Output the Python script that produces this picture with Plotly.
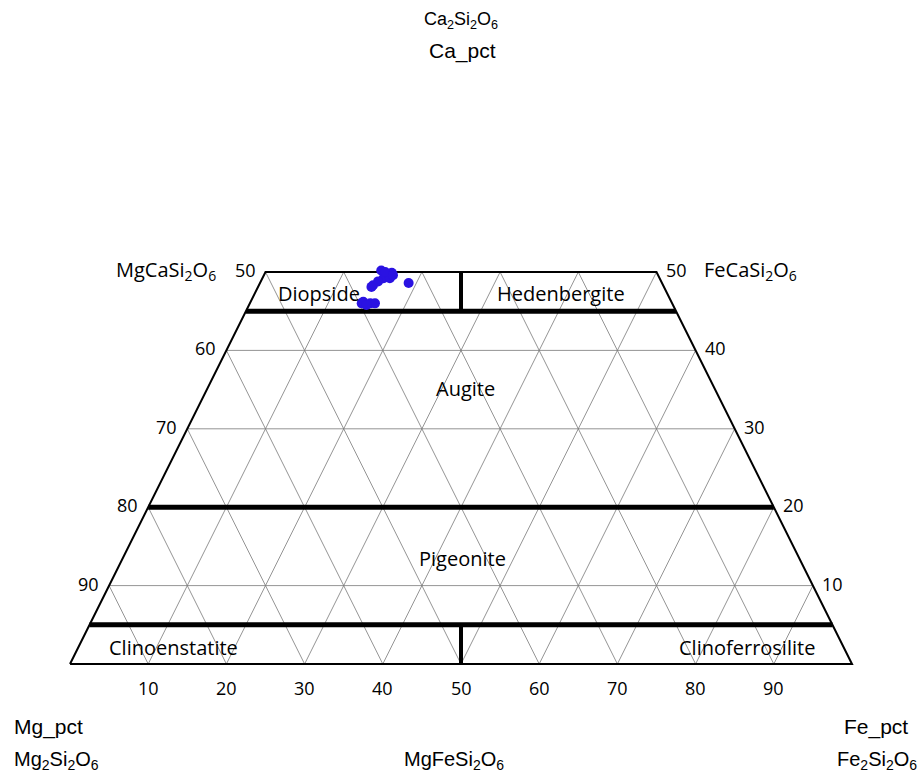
import plotly.graph_objects as go

# ---------------- data ----------------
ca_pct = [50.2, 49.9, 49.6, 49.2, 49.2, 48.8, 48.3, 48.1, 48.6, 46.2, 46.0, 46.0, 46.0, 45.8, 50.0, 49.6]
fe_pct = [14.7, 16.2, 15.7, 15.5, 16.3, 15.0, 14.6, 14.5, 19.0, 14.4, 14.3, 15.4, 16.0, 15.0, 15.3, 16.5]
mg_pct = [round(100 - c - f, 1) for c, f in zip(ca_pct, fe_pct)]

ca_max = 50                       # quadrilateral is truncated at Wo50
field_boundaries_ca = [5, 20, 45]  # thick boundaries
grid_ca = [10, 30, 40]             # thin horizontal grid
grid_steps = [10, 20, 30, 40, 50, 60, 70, 80, 90]
left_ticks = [50, 60, 70, 80, 90]     # Mg at left edge
right_ticks = [50, 40, 30, 20, 10]    # Ca at right edge
bottom_ticks = [10, 20, 30, 40, 50, 60, 70, 80, 90]  # Fe along base

fields = ["Diopside", "Hedenbergite", "Augite", "Pigeonite", "Clinoenstatite", "Clinoferrosilite"]


def X(ca, fe):
    return fe + ca / 2.0


def Y(ca):
    return ca


fig = go.Figure()

grid_style = dict(color="rgb(120,120,120)", width=0.8)

# thin horizontal grid lines
for c in grid_ca:
    fig.add_trace(go.Scatter(x=[X(c, 0), X(c, 100 - c)], y=[Y(c), Y(c)], mode="lines",
                             line=grid_style, hoverinfo="skip", showlegend=False))
# constant-Fe and constant-Mg diagonals
for s in grid_steps:
    ctop = min(ca_max, 100 - s)
    fig.add_trace(go.Scatter(x=[X(0, s), X(ctop, s)], y=[Y(0), Y(ctop)], mode="lines",
                             line=grid_style, hoverinfo="skip", showlegend=False))
    fe0 = 100 - s
    fig.add_trace(go.Scatter(x=[X(0, fe0), X(ctop, 100 - s - ctop)], y=[Y(0), Y(ctop)], mode="lines",
                             line=grid_style, hoverinfo="skip", showlegend=False))

# outline
fig.add_trace(go.Scatter(
    x=[X(0, 0), X(0, 100), X(ca_max, 100 - ca_max), X(ca_max, 0), X(0, 0)],
    y=[Y(0), Y(0), Y(ca_max), Y(ca_max), Y(0)],
    mode="lines", line=dict(color="black", width=2), hoverinfo="skip", showlegend=False))

# thick field boundaries
for c in field_boundaries_ca:
    fig.add_trace(go.Scatter(x=[X(c, 0), X(c, 100 - c)], y=[Y(c), Y(c)], mode="lines",
                             line=dict(color="black", width=5), hoverinfo="skip", showlegend=False))
# Mg = Fe dividers
for c0, c1 in [(0, field_boundaries_ca[0]), (field_boundaries_ca[2], ca_max)]:
    fig.add_trace(go.Scatter(x=[X(c0, (100 - c0) / 2), X(c1, (100 - c1) / 2)], y=[Y(c0), Y(c1)],
                             mode="lines", line=dict(color="black", width=4),
                             hoverinfo="skip", showlegend=False))

# data points
fig.add_trace(go.Scatter(
    x=[X(c, f) for c, f in zip(ca_pct, fe_pct)], y=[Y(c) for c in ca_pct],
    mode="markers", marker=dict(color="#2a12e2", size=10),
    customdata=list(zip(ca_pct, mg_pct, fe_pct)),
    hovertemplate="Ca_pct=%{customdata[0]}<br>Mg_pct=%{customdata[1]}<br>Fe_pct=%{customdata[2]}<extra></extra>",
    showlegend=False))

ann = []
tick_font = dict(family="Open Sans, sans-serif", size=18, color="black")
for v in left_ticks:
    c = 100 - v
    ann.append(dict(x=X(c, 0), y=Y(c), text=str(v), showarrow=False, xanchor="right",
                    yanchor="middle", xshift=-8, yshift=2, font=tick_font))
for v in right_ticks:
    c = v
    ann.append(dict(x=X(c, 100 - c), y=Y(c), text=str(v), showarrow=False, xanchor="left",
                    yanchor="middle", xshift=7, yshift=2, font=tick_font))
for v in bottom_ticks:
    ann.append(dict(x=X(0, v), y=Y(0), text=str(v), showarrow=False, xanchor="center",
                    yanchor="middle", yshift=-24, font=tick_font))

label_font = dict(family="Open Sans, sans-serif", size=20, color="black")
field_pos = [(319, 293), (561, 293), (466, 388), (462, 558), (173, 647), (747, 647)]
W, H = 920, 778
for name, (px, py) in zip(fields, field_pos):
    ann.append(dict(x=px / W, y=1 - py / H, xref="paper", yref="paper", text=name,
                    showarrow=False, xanchor="center", yanchor="middle", font=label_font))

form_font = dict(family="Open Sans, sans-serif", size=20, color="black")
ann.append(dict(x=218 / W, y=1 - 270 / H, xref="paper", yref="paper",
                text="MgCaSi<sub>2</sub>O<sub>6</sub>", showarrow=False,
                xanchor="right", yanchor="middle", font=form_font))
ann.append(dict(x=702 / W, y=1 - 270 / H, xref="paper", yref="paper",
                text="FeCaSi<sub>2</sub>O<sub>6</sub>", showarrow=False,
                xanchor="left", yanchor="middle", font=form_font))

title_font = dict(family="Liberation Sans, Arial, sans-serif", size=21, color="black")
formula_font = dict(family="Liberation Sans, Arial, sans-serif", size=18, color="black")
bottom_formula_font = dict(family="Liberation Sans, Arial, sans-serif", size=20, color="black")
ann.append(dict(x=461 / W, y=1 - 20 / H, xref="paper", yref="paper",
                text="Ca<sub>2</sub>Si<sub>2</sub>O<sub>6</sub>", showarrow=False,
                xanchor="center", yanchor="middle", font=formula_font))
ann.append(dict(x=462 / W, y=1 - 51 / H, xref="paper", yref="paper", text="Ca_pct",
                showarrow=False, xanchor="center", yanchor="middle", font=title_font))
ann.append(dict(x=12 / W, y=1 - 727 / H, xref="paper", yref="paper", text="Mg_pct",
                showarrow=False, xanchor="left", yanchor="middle", font=title_font))
ann.append(dict(x=910 / W, y=1 - 727 / H, xref="paper", yref="paper", text="Fe_pct",
                showarrow=False, xanchor="right", yanchor="middle", font=title_font))
ann.append(dict(x=12 / W, y=1 - 760 / H, xref="paper", yref="paper",
                text="Mg<sub>2</sub>Si<sub>2</sub>O<sub>6</sub>", showarrow=False,
                xanchor="left", yanchor="middle", font=bottom_formula_font))
ann.append(dict(x=454 / W, y=1 - 760 / H, xref="paper", yref="paper",
                text="MgFeSi<sub>2</sub>O<sub>6</sub>", showarrow=False,
                xanchor="center", yanchor="middle", font=bottom_formula_font))
ann.append(dict(x=919 / W, y=1 - 760 / H, xref="paper", yref="paper",
                text="Fe<sub>2</sub>Si<sub>2</sub>O<sub>6</sub>", showarrow=False,
                xanchor="right", yanchor="middle", font=bottom_formula_font))

# pixel mapping: X=0 -> 70px, X=100 -> 852px ; Y=0 -> 664px, Y=50 -> 272px
px_per_x = (852 - 70) / 100.0
px_per_y = (664 - 272) / 50.0
x_range = [-70 / px_per_x, 100 + (W - 852) / px_per_x]
y_range = [-(H - 664) / px_per_y, 664 / px_per_y]

fig.update_layout(
    width=W, height=H, margin=dict(l=0, r=0, t=0, b=0),
    plot_bgcolor="white", paper_bgcolor="white",
    xaxis=dict(range=x_range, visible=False, fixedrange=True),
    yaxis=dict(range=y_range, visible=False, fixedrange=True),
    annotations=ann, showlegend=False,
)

fig.write_html("out.html", config={"displayModeBar": False},
               post_script="document.body.style.margin='0px';document.body.style.overflow='hidden';")
